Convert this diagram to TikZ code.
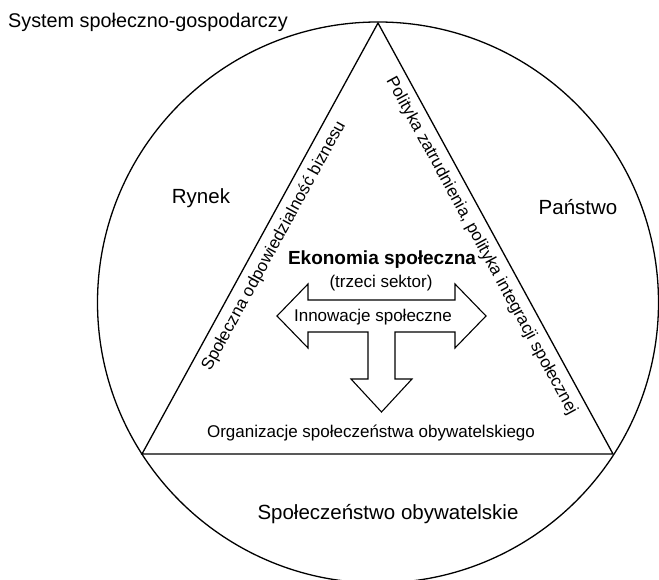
\documentclass[tikz,border=0pt]{standalone}
\usepackage{fontspec}
\setmainfont{Liberation Sans}
\usetikzlibrary{calc}

\begin{document}
\begin{tikzpicture}[
    x=1pt, y=1pt,
    outline/.style={draw, line width=1.3pt},
    bigtxt/.style={font=\fontsize{20.5}{24}\selectfont, inner sep=0pt},
    midtxt/.style={font=\fontsize{17}{20}\selectfont, inner sep=0pt},
    headtxt/.style={font=\fontsize{19}{22}\selectfont\bfseries, inner sep=0pt},
    flow/.style={draw, line width=1.1pt, fill=white, line join=miter}
  ]
    \clip (0,0) rectangle (659,580);

    % Outer circle and inscribed triangle.
    \coordinate (centre) at (378,277.5);
    \coordinate (apex) at (378,557);
    \coordinate (bl) at (142,126);
    \coordinate (br) at (613,126);
    \draw[outline] (centre) circle (280.5);
    \draw[outline, line join=miter] (apex) -- (br) -- (bl) -- cycle;

    % Sector names.
    \node[bigtxt, font=\fontsize{19.8}{24}\selectfont, anchor=base west] (system) at (8,552) {System społeczno-gospodarczy};
    \node[bigtxt] (rynek) at (201,382) {Rynek};
    \node[bigtxt] (panstwo) at (578,373) {Państwo};
    \node[bigtxt] (spoleczenstwo) at (388,66) {Społeczeństwo obywatelskie};

    % Labels along the sides.
    \path ($(bl)!16pt!-90:(apex)$) -- ($(apex)!16pt!90:(bl)$)
      node[midtxt, midway, sloped] (csr) {Społeczna odpowiedzialność biznesu};
    \path ($(apex)!16pt!-90:(br)$) -- ($(br)!16pt!90:(apex)$)
      node[midtxt, midway, sloped] (polityka) {Polityka zatrudnienia, polityka integracji społecznej};
    \node[midtxt] (organizacje) at (371,147) {Organizacje społeczeństwa obywatelskiego};

    % Third sector arrow.
    \draw[flow] (277,264) -- (308,296) -- (308,280) -- (455,280) -- (455,296) -- (486,264)
      -- (455,232) -- (455,248) -- (395,248) -- (395,201) -- (412,201) -- (381.5,168)
      -- (351,201) -- (368,201) -- (368,248) -- (308,248) -- (308,232) -- cycle;
    \node[headtxt] (ekonomia) at (382,320) {Ekonomia społeczna};
    \node[midtxt] (sektor) at (381,297) {(trzeci sektor)};
    \node[midtxt] (innowacje) at (373,263) {Innowacje społeczne};
\end{tikzpicture}
\end{document}
